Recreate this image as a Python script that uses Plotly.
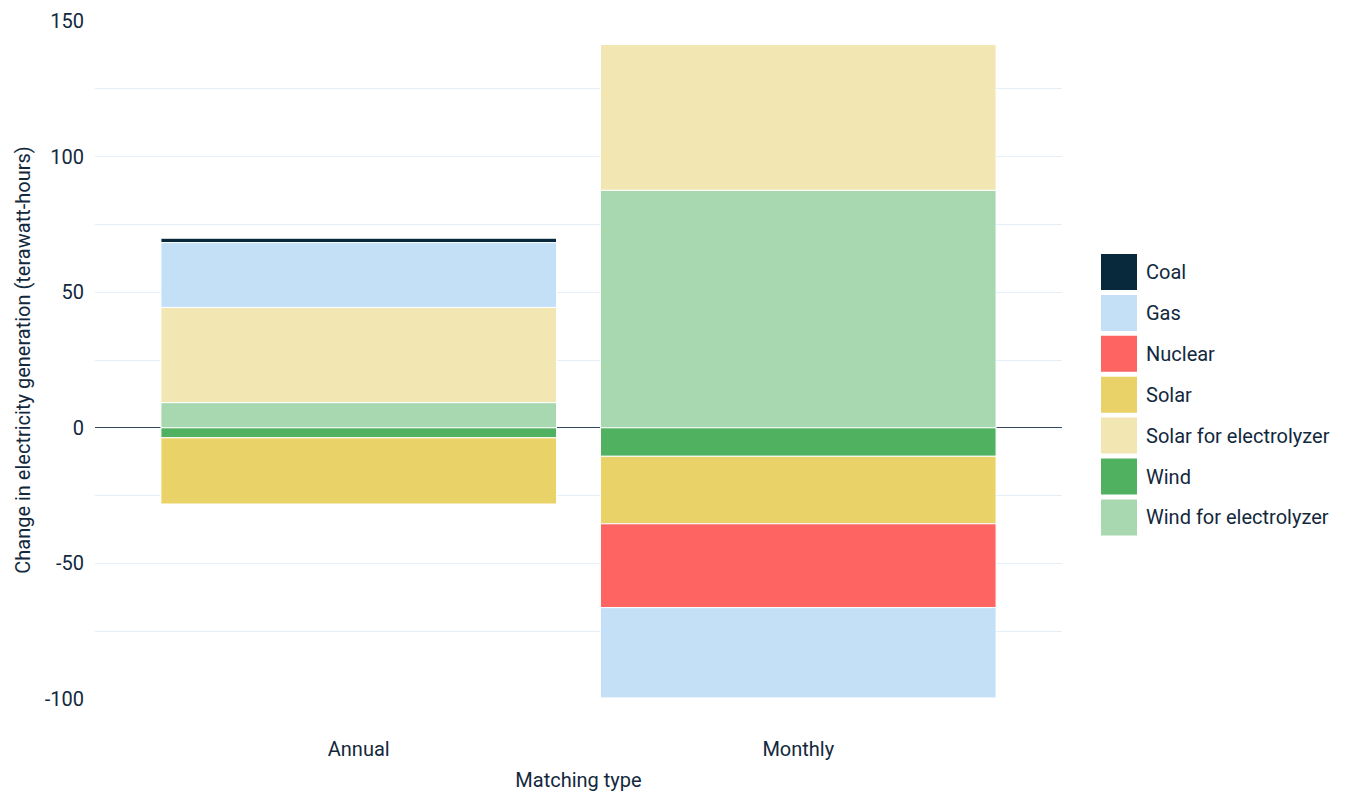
import plotly.graph_objects as go

categories = ["Annual", "Monthly"]

# legend order (top to bottom)
sources = ["Coal", "Gas", "Nuclear", "Solar", "Solar for electrolyzer", "Wind", "Wind for electrolyzer"]
colors = ["#08283c", "#c3e0f7", "#fe6462", "#e9d368", "#f2e7b3", "#50b160", "#a8d8b0"]

coal = [1.6, 0]
gas = [23.9, -33.3]
nuclear = [0, -30.9]
solar = [-24.4, -24.9]
solar_elec = [35.1, 53.8]
wind = [-3.7, -10.5]
wind_elec = [9.3, 87.6]

y_tickvals = [-100, -50, 0, 50, 100, 150]
y_ticktext = ["-100", "-50", "0", "50", "100", "150"]
y_minorvals = [-75, -25, 25, 75, 125]

values = {
    "Coal": coal,
    "Gas": gas,
    "Nuclear": nuclear,
    "Solar": solar,
    "Solar for electrolyzer": solar_elec,
    "Wind": wind,
    "Wind for electrolyzer": wind_elec,
}

FONT = "Roboto"
TXT = "#12283d"

fig = go.Figure()
for name in reversed(sources):
    c = colors[sources.index(name)]
    fig.add_trace(go.Bar(
        x=categories, y=values[name], name=name,
        marker=dict(color=c, line=dict(color="white", width=1)),
        showlegend=False,
    ))

W, H = 1349, 792
ml, mr, mt, mb = 95, 287, 21, 93
pw, ph = W - ml - mr, H - mt - mb

def px2x(px):
    return (px - ml) / pw

def px2y(py):
    return (H - mb - py) / ph

shapes = []
annotations = []
top0, step, sw = 254, 40.9, 36
for i, (name, c) in enumerate(zip(sources, colors)):
    t = top0 + i * step
    shapes.append(dict(type="rect", xref="paper", yref="paper",
                       x0=px2x(1101), x1=px2x(1101 + sw),
                       y0=px2y(t + sw), y1=px2y(t),
                       fillcolor=c, line=dict(width=0)))
    annotations.append(dict(xref="paper", yref="paper", x=px2x(1144), y=px2y(t + sw / 2),
                            text=name, showarrow=False, xanchor="left", yanchor="middle",
                            font=dict(family=FONT, size=20, color=TXT)))

fig.update_layout(
    width=W, height=H,
    margin=dict(l=ml, r=mr, t=mt, b=mb, autoexpand=False),
    barmode="relative",
    bargap=0.1,
    plot_bgcolor="white", paper_bgcolor="white",
    font=dict(family=FONT, size=20, color=TXT),
    shapes=shapes,
    annotations=annotations,
    showlegend=False,
    xaxis=dict(
        range=[-0.6, 1.6],
        automargin=False,
        showgrid=False, showline=False, zeroline=False,
        ticks="", ticklabelstandoff=36,
        tickfont=dict(family=FONT, size=20, color=TXT),
        title=dict(text="Matching type", standoff=12,
                   font=dict(family=FONT, size=20, color=TXT)),
    ),
    yaxis=dict(
        range=[-100, 150],
        automargin=False,
        tickvals=y_tickvals, ticktext=y_ticktext,
        showgrid=True, gridcolor="#e5eff9", gridwidth=1,
        minor=dict(tickvals=y_minorvals, showgrid=True, gridcolor="#e5eff9", gridwidth=1),
        zeroline=True, zerolinecolor="#34495c", zerolinewidth=1,
        showline=False, ticks="", ticklabelstandoff=10,
        tickfont=dict(family=FONT, size=20, color=TXT),
        title=dict(text="Change in electricity generation (terawatt-hours)", standoff=8,
                   font=dict(family=FONT, size=20, color=TXT)),
    ),
)

fig.write_html("out.html",
               config={"displayModeBar": False},
               post_script="document.body.style.margin='0';document.body.style.overflow='hidden';")
